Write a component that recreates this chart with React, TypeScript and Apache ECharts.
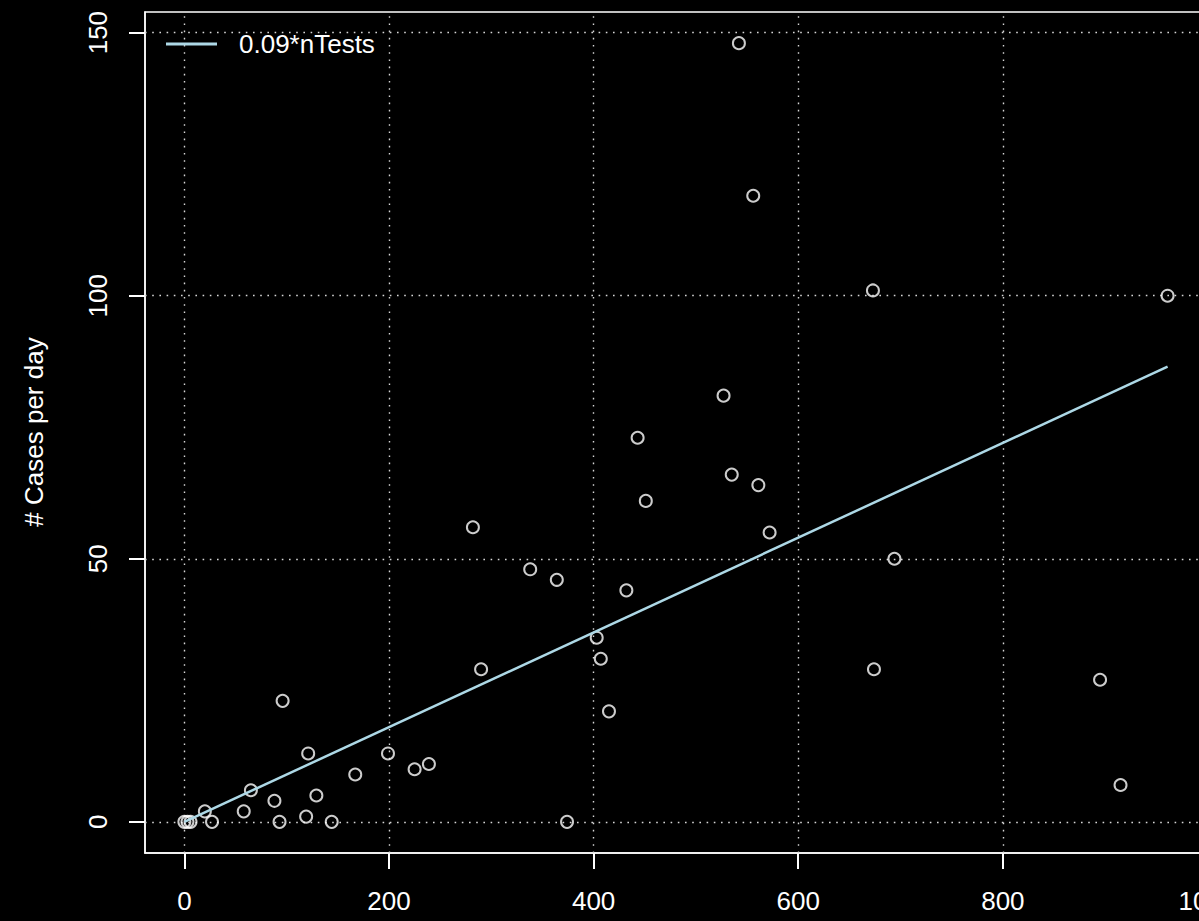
import React, { useEffect, useRef } from "react";
import * as echarts from "echarts";

// Observed data: tests per day vs. cases per day
const nTests = [0, 3, 6, 20, 27, 58, 65, 88, 93, 96, 119, 121, 129, 144, 167, 199, 225, 239, 282, 290, 338, 364, 374, 403, 407, 415, 432, 443, 451, 527, 535, 542, 556, 561, 572, 673, 674, 694, 895, 915, 961];
const cases = [0, 0, 0, 2, 0, 2, 6, 4, 0, 23, 1, 13, 5, 0, 9, 13, 10, 11, 56, 29, 48, 46, 0, 35, 31, 21, 44, 73, 61, 81, 66, 148, 119, 64, 55, 101, 29, 50, 27, 7, 100];

// Reference line 0.09*nTests (end points)
const lineX = [0, 961];
const lineY = [0, 86.5];
const lineName = "0.09*nTests";

// Axis ticks and plot ranges
const xTicks = [0, 200, 400, 600, 800, 1000];
const yTicks = [0, 50, 100, 150];
const xRange = [-38.5, 1000.5];
const yRange = [-5.92, 153.92];
const yTitle = "# Cases per day";

const FONT = "'Liberation Sans', Arial, Helvetica, sans-serif";
const TICK_LEN = 16;

export default function App() {
  const ref = useRef<HTMLDivElement>(null);

  useEffect(() => {
    if (!ref.current) return;
    const chart = echarts.init(ref.current, null, { renderer: "svg" });
    const points = nTests.map((x, i) => [x, cases[i]]);
    const linePts = lineX.map((x, i) => [x, lineY[i]]);
    const gridStyle = { color: "#d6d6d6", width: 1.4, type: [1.6, 5.6] as any };
    const axisLineStyle = { color: "#ffffff", width: 1.5 };
    const tickLineStyle = { color: "#ffffff", width: 2 };

    chart.setOption({
      animation: false,
      backgroundColor: "#000000",
      textStyle: { fontFamily: FONT },
      grid: {
        show: true,
        left: 145,
        top: 12,
        right: 52,
        bottom: 68,
        borderColor: "#ffffff",
        borderWidth: 1.5,
        backgroundColor: "transparent",
        containLabel: false,
      },
      legend: {
        show: true,
        left: 166,
        top: 31,
        padding: 0,
        itemWidth: 51,
        itemHeight: 14,
        data: [{ name: lineName, icon: "path://M0,0L51,0L51,3L0,3Z" }],
        itemStyle: { color: "#ADD8E6" },
        textStyle: {
          color: "#ffffff",
          fontSize: 26,
          fontFamily: FONT,
          padding: [0, 0, 0, 17],
        },
      },
      xAxis: {
        type: "value",
        position: "bottom",
        min: xRange[0],
        max: xRange[1],
        axisLine: { show: true, onZero: false, lineStyle: axisLineStyle },
        splitLine: { show: false },
        axisTick: {
          show: true,
          customValues: xTicks,
          length: TICK_LEN,
          lineStyle: tickLineStyle,
        },
        axisLabel: {
          show: true,
          customValues: xTicks,
          formatter: (v: number) => String(v),
          margin: 35,
          color: "#ffffff",
          fontSize: 26,
          fontFamily: FONT,
        },
      },
      yAxis: {
        type: "value",
        position: "left",
        min: yRange[0],
        max: yRange[1],
        axisLine: { show: true, onZero: false, lineStyle: axisLineStyle },
        splitLine: { show: false },
        axisTick: {
          show: true,
          customValues: yTicks,
          length: TICK_LEN,
          lineStyle: tickLineStyle,
        },
        axisLabel: {
          show: true,
          customValues: yTicks,
          formatter: (v: number) => String(v),
          rotate: 90,
          margin: 34,
          color: "#ffffff",
          fontSize: 26,
          fontFamily: FONT,
        },
      },
      graphic: [
        {
          id: "ytitle",
          type: "text",
          x: 34,
          y: 432,
          rotation: Math.PI / 2,
          style: {
            text: yTitle,
            fill: "#ffffff",
            fontSize: 26,
            fontFamily: FONT,
            textAlign: "center",
            textVerticalAlign: "middle",
          },
        },
      ],
      series: [
        {
          type: "scatter",
          name: "points",
          data: points,
          symbol: "circle",
          symbolSize: 12,
          itemStyle: {
            color: "rgba(0,0,0,0)",
            borderColor: "#ffffff",
            borderWidth: 2,
          },
          z: 3,
          markLine: {
            silent: true,
            symbol: "none",
            label: { show: false },
            lineStyle: gridStyle,
            emphasis: { disabled: true },
            data: [
              ...xTicks.map((v) => ({ xAxis: v })),
              ...yTicks.map((v) => ({ yAxis: v })),
            ],
            z: 1,
          },
        },
        {
          type: "line",
          name: lineName,
          data: linePts,
          symbol: "none",
          showSymbol: false,
          lineStyle: { color: "#ADD8E6", width: 2.5 },
          itemStyle: { color: "#ADD8E6" },
          z: 4,
        },
      ],
    });

    return () => chart.dispose();
  }, []);

  return (
    <div
      style={{
        position: "fixed",
        left: 0,
        top: 0,
        width: 1199,
        height: 921,
        overflow: "hidden",
        background: "#000",
      }}
    >
      <div ref={ref} style={{ width: 1260, height: 921 }} />
    </div>
  );
}
